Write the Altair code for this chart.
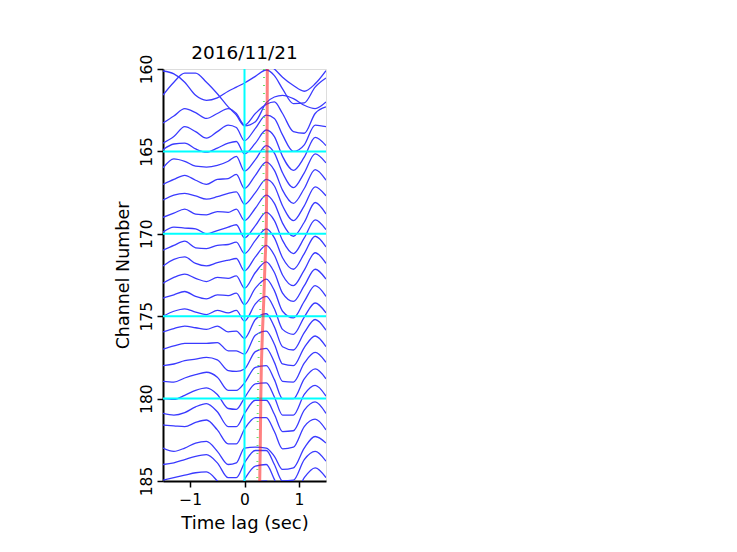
import altair as alt
import pandas as pd

# time grid (s) at which each trace amplitude was read
T = [-1.5, -1.3, -1.1, -0.9, -0.7, -0.5, -0.3, -0.15, 0.0, 0.2, 0.4, 0.55, 0.7, 0.9, 1.1, 1.3, 1.5]

# trace amplitudes (channel units, positive = up) per channel
ch160 = [0.9, 1.3, 1.5, 1.3, 0.9, 1.1, 1.3, 1.2, 1.0, 0.7, 0.3, 0.0, -0.5, -1.0, -1.35, -0.9, -0.1]
ch161 = [0.88, 0.7, 0.2, -0.6, -0.9, -0.75, -0.35, -0.1, 0.15, 0.55, 0.94, 0.6, -0.2, -1.1, -1.05, -0.1, 0.45]
ch162 = [0.42, 1.2, 1.75, 1.75, 1.2, 0.5, -0.3, -0.8, -1.45, -1.2, -0.06, 0.3, 0.4, 0.2, -0.2, -0.4, 0.0]
ch163 = [-0.28, 0.15, 0.6, 0.35, 0.0, 0.3, 0.6, 0.3, -0.4, 0.3, 0.85, 1.0, 0.3, -0.8, -0.9, 0.3, 0.7]
ch164 = [-0.5, -0.1, 0.5, 0.2, -0.2, 0.2, 0.6, 0.45, -0.35, 0.4, 1.2, 1.0, 0.0, -1.0, -0.6, 0.6, 0.5]
ch165 = [0.1, 0.45, 0.5, 0.15, -0.05, 0.2, 0.5, 0.6, -0.15, 0.5, 1.3, 0.9, -0.3, -1.15, -0.35, 0.85, 0.35]
ch166 = [0.0, 0.55, 0.4, 0.1, 0.05, 0.15, 0.4, 0.7, -0.2, 0.5, 1.35, 0.9, -0.3, -1.2, -0.3, 0.85, 0.3]
ch167 = [0.0, 0.3, 0.55, 0.25, 0.0, 0.3, 0.35, 0.6, -0.25, 0.55, 1.35, 0.85, -0.35, -1.15, -0.25, 0.9, 0.25]
ch168 = [0.05, 0.35, 0.45, 0.3, 0.1, 0.25, 0.45, 0.55, -0.2, 0.5, 1.3, 0.9, -0.3, -1.2, -0.3, 0.85, 0.3]
ch169 = [0.0, 0.25, 0.5, 0.2, 0.15, 0.35, 0.3, 0.5, -0.2, 0.55, 1.35, 0.85, -0.35, -1.15, -0.3, 0.9, 0.2]
ch170 = [0.1, 0.4, 0.35, 0.3, 0.0, 0.2, 0.4, 0.55, -0.25, 0.5, 1.3, 0.8, -0.4, -1.2, -0.25, 0.85, 0.25]
ch171 = [0.0, 0.3, 0.55, 0.15, 0.1, 0.3, 0.35, 0.5, -0.2, 0.6, 1.3, 0.75, -0.45, -1.15, -0.2, 0.85, 0.2]
ch172 = [0.05, 0.45, 0.6, 0.2, 0.05, 0.25, 0.4, 0.5, -0.25, 0.6, 1.3, 0.7, -0.5, -1.15, -0.2, 0.85, 0.2]
ch173 = [0.0, 0.35, 0.55, 0.3, 0.1, 0.35, 0.3, 0.45, -0.3, 0.65, 1.3, 0.65, -0.6, -1.1, -0.15, 0.85, 0.25]
ch174 = [0.1, 0.3, 0.5, 0.2, 0.05, 0.3, 0.25, 0.4, -0.3, 0.7, 1.25, 0.55, -0.7, -1.1, -0.1, 0.85, 0.2]
ch175 = [0.0, 0.3, 0.45, 0.25, 0.1, 0.35, 0.2, 0.35, -0.3, 0.75, 1.2, 0.45, -0.8, -1.1, -0.05, 0.8, 0.2]
ch176 = [0.05, 0.25, 0.4, 0.3, 0.2, 0.4, 0.05, 0.1, -0.35, 0.8, 1.15, 0.35, -0.85, -1.05, 0.0, 0.8, 0.15]
ch177 = [0.0, 0.2, 0.35, 0.35, 0.35, 0.4, -0.1, -0.1, -0.3, 0.85, 1.1, 0.3, -0.9, -1.0, 0.1, 0.8, 0.15]
ch178 = [0.0, 0.1, 0.3, 0.4, 0.5, 0.35, -0.3, -0.35, -0.2, 0.85, 1.05, 0.2, -0.95, -1.0, 0.15, 0.8, 0.2]
ch179 = [0.05, 0.0, 0.25, 0.45, 0.6, 0.3, -0.5, -0.5, -0.05, 0.9, 1.0, 0.15, -1.0, -1.0, 0.2, 0.8, 0.2]
ch180 = [0.0, -0.05, 0.2, 0.5, 0.65, 0.25, -0.6, -0.65, 0.05, 0.9, 0.95, 0.1, -1.0, -1.0, 0.25, 0.8, 0.15]
ch181 = [0.1, 0.0, 0.15, 0.5, 0.7, 0.2, -0.7, -0.7, 0.1, 0.9, 0.9, 0.05, -1.0, -0.95, 0.3, 0.8, 0.1]
ch182 = [0.4, 0.35, 0.3, 0.55, 0.7, 0.1, -0.75, -0.75, 0.15, 0.85, 0.85, 0.0, -1.05, -0.95, 0.3, 0.75, 0.1]
ch183 = [0.0, -0.2, 0.0, 0.3, 0.4, -0.2, -1.0, -0.9, 0.0, 0.05, 0.0, -0.5, -1.3, -1.2, 0.0, 0.7, 0.3]
ch184 = [0.0, 0.1, 0.3, 0.5, 0.6, 0.1, -0.8, -0.8, 0.1, 0.85, 0.85, 0.0, -1.0, -0.95, 0.3, 0.8, 0.2]
ch185 = [0.05, 0.2, 0.35, 0.5, 0.55, 0.0, -0.85, -0.8, 0.1, 0.9, 1.0, 0.1, -1.0, -1.0, 0.2, 0.8, 0.2]
ch186 = [0.0, 0.2, 0.4, 0.6, 0.6, 0.1, -0.8, -0.7, 0.2, 0.9, 1.0, 0.1, -0.9, -1.0, 0.2, 0.8, 0.2]

CHANNELS = list(range(160, 187))
TRACES = [ch160, ch161, ch162, ch163, ch164, ch165, ch166, ch167, ch168, ch169,
          ch170, ch171, ch172, ch173, ch174, ch175, ch176, ch177, ch178, ch179,
          ch180, ch181, ch182, ch183, ch184, ch185, ch186]

# picked arrival (red) and dotted green reference, as (time, channel)
RED_CH = [160, 165, 170, 172, 174, 176, 178, 180, 183, 185]
RED_T = [0.42, 0.415, 0.40, 0.375, 0.355, 0.33, 0.31, 0.30, 0.29, 0.28]
GREEN_T = [0.36, 0.355, 0.34, 0.315, 0.295, 0.275, 0.255, 0.245, 0.24, 0.235]

CYAN_CH = [165, 170, 175, 180]
CYAN_T = [0.0]

X_TICKS = [-1, 0, 1]
Y_TICKS = [160, 165, 170, 175, 180, 185]

rows = []
for c, amps in zip(CHANNELS, TRACES):
    for t, a in zip(T, amps):
        rows.append({"t": t, "y": c - a, "ch": c})
df = pd.DataFrame(rows)
df_red = pd.DataFrame({"t": RED_T, "y": RED_CH})
df_green = pd.DataFrame({"t": GREEN_T, "y": RED_CH})

FONT = "DejaVu Sans"
xs = alt.Scale(domain=[-1.5, 1.5], nice=False, zero=False)
ys = alt.Scale(domain=[160, 185], reverse=True, nice=False, zero=False)
XT = "Time lag (sec)"
YT = "Channel Number"

xaxis = alt.Axis(values=X_TICKS, grid=False, tickSize=6, tickWidth=1.5, tickColor="black",
                 domainColor="black", domainWidth=2, labelFontSize=15.5, labelColor="black",
                 labelFont=FONT, labelPadding=5, titleFont=FONT, titleFontSize=18,
                 titleFontWeight="normal", titleColor="black", titlePadding=7, format="d")
yaxis = alt.Axis(values=Y_TICKS, grid=False, tickSize=6, tickWidth=1.5, tickColor="black",
                 domainColor="black", domainWidth=2, labelFontSize=15.5, labelColor="black",
                 labelFont=FONT, labelAngle=270, labelAlign="center", labelBaseline="bottom",
                 labelPadding=3, titleFont=FONT, titleFontSize=17.5, titleFontWeight="normal",
                 titleColor="black", titlePadding=7, format="d")

traces = alt.Chart(df).mark_line(color="#3a3aff", strokeWidth=1.3, interpolate="monotone",
                                 clip=True).encode(
    x=alt.X("t:Q", scale=xs, axis=xaxis, title=XT),
    y=alt.Y("y:Q", scale=ys, axis=yaxis, title=YT),
    detail="ch:N",
)

cyan_h = alt.Chart(pd.DataFrame({"y": CYAN_CH})).mark_rule(color="#00ffff", strokeWidth=2).encode(
    y=alt.Y("y:Q", scale=ys, title=YT)
)
cyan_v = alt.Chart(pd.DataFrame({"t": CYAN_T})).mark_rule(color="#00ffff", strokeWidth=2).encode(
    x=alt.X("t:Q", scale=xs, title=XT)
)
red = alt.Chart(df_red).mark_line(color="#ff1a1a", opacity=0.55, strokeWidth=3, clip=True).encode(
    x=alt.X("t:Q", scale=xs, title=XT),
    y=alt.Y("y:Q", scale=ys, title=YT),
    order="y:Q",
)
green = alt.Chart(df_green).mark_line(color="#66e066", strokeWidth=2, strokeDash=[1, 7],
                                      clip=True).encode(
    x=alt.X("t:Q", scale=xs, title=XT),
    y=alt.Y("y:Q", scale=ys, title=YT),
    order="y:Q",
)

chart = alt.layer(traces, cyan_h, cyan_v, red, green).properties(
    width=163, height=412,
    autosize=alt.AutoSizeParams(type="none"),
    padding={"left": 163, "top": 69, "right": 411, "bottom": 71},
    title=alt.TitleParams("2016/11/21", font=FONT, fontSize=18.5, fontWeight="normal",
                          color="black", offset=-8, anchor="middle", frame="group"),
).configure_view(stroke="black", strokeWidth=2).configure(background="white")

chart.save("out.html", embed_options={"renderer": "svg", "actions": False})
